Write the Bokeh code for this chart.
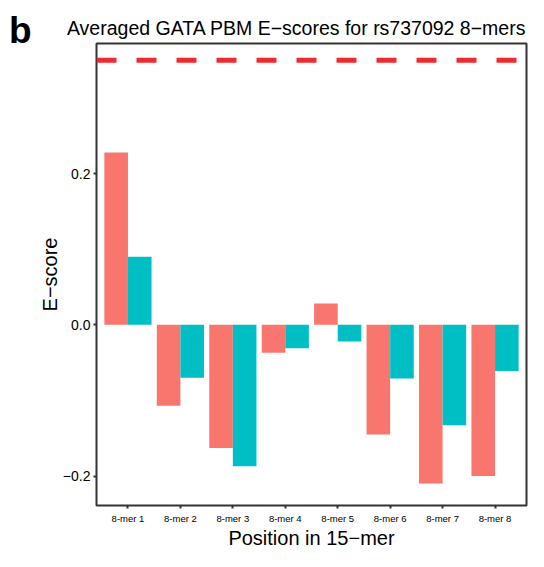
from bokeh.plotting import figure
from bokeh.layouts import row
from bokeh.models import ColumnDataSource, FixedTicker, Span, Range1d, Div
from bokeh.transform import dodge
from bokeh.embed import file_html
from bokeh.resources import INLINE

categories = ["8-mer 1", "8-mer 2", "8-mer 3", "8-mer 4", "8-mer 5", "8-mer 6", "8-mer 7", "8-mer 8"]
positions = [1, 2, 3, 4, 5, 6, 7, 8]
allele_a = [0.228, -0.107, -0.163, -0.037, 0.028, -0.145, -0.210, -0.200]
allele_b = [0.090, -0.070, -0.187, -0.031, -0.022, -0.071, -0.133, -0.061]
threshold = 0.35
y_ticks = [-0.2, 0.0, 0.2]
y_tick_labels = ["\u22120.2", "0.0", "0.2"]
panel_letter = "b"

src = ColumnDataSource(dict(x=positions, a=allele_a, b=allele_b))

FONT = "Liberation Sans"
H = 551
BW = 35

# narrow column holding the panel letter
pb = Div(text=panel_letter, width=BW, height=H,
         styles={"font-family": FONT, "font-size": "37px", "font-weight": "bold",
                 "line-height": "37px", "padding-top": "12px", "padding-left": "9px",
                 "margin": "0px", "color": "#000000"})

p = figure(width=528 - BW, height=H, output_backend="svg", toolbar_location=None,
           x_range=Range1d(0.4, 8.6), y_range=Range1d(-0.239, 0.372),
           min_border_left=95 - BW, min_border_right=2, min_border_top=43, min_border_bottom=41,
           title="Averaged GATA PBM E\u2212scores for rs737092 8\u2212mers")

p.vbar(x=dodge("x", -0.225, range=p.x_range), top="a", bottom=0, width=0.45,
       source=src, fill_color="#F8766D", line_color=None)
p.vbar(x=dodge("x", 0.225, range=p.x_range), top="b", bottom=0, width=0.45,
       source=src, fill_color="#00BFC4", line_color=None)

p.add_layout(Span(location=threshold, dimension="width", line_color="#EE2A2E",
                  line_width=5, line_dash="20 20"))

p.title.text_font = FONT
p.title.text_font_size = "19.5px"
p.title.text_font_style = "normal"
p.title.align = "right"
p.title.text_color = "#000000"

p.xgrid.visible = False
p.ygrid.visible = False
p.background_fill_color = "white"
p.border_fill_color = "white"
p.outline_line_color = "#333333"
p.outline_line_width = 2

p.xaxis.ticker = FixedTicker(ticks=positions)
p.xaxis.major_label_overrides = {pos: lab for pos, lab in zip(positions, categories)}
p.yaxis.ticker = FixedTicker(ticks=y_ticks)
p.yaxis.major_label_overrides = {t: lab for t, lab in zip(y_ticks, y_tick_labels)}

for ax in (p.xaxis[0], p.yaxis[0]):
    ax.axis_line_color = None
    ax.major_tick_line_color = "#333333"
    ax.major_tick_line_width = 2
    ax.major_tick_out = 3
    ax.major_tick_in = 0
    ax.minor_tick_line_color = None
    ax.major_label_text_font = FONT
    ax.major_label_text_color = "#000000"
    ax.axis_label_text_font = FONT
    ax.axis_label_text_font_size = "20px"
    ax.axis_label_text_font_style = "normal"
    ax.axis_label_text_color = "#000000"

p.xaxis.major_label_text_font_size = "9.5px"
p.xaxis.major_label_standoff = 4
p.xaxis.axis_label = "Position in 15\u2212mer"
p.xaxis.axis_label_standoff = 0
p.yaxis.major_label_text_font_size = "14px"
p.yaxis.major_label_standoff = 3
p.yaxis.axis_label = "E\u2212score"
p.yaxis.axis_label_standoff = -1

layout = row(pb, p, spacing=0)

open("out.html", "w").write(file_html(layout, INLINE))
